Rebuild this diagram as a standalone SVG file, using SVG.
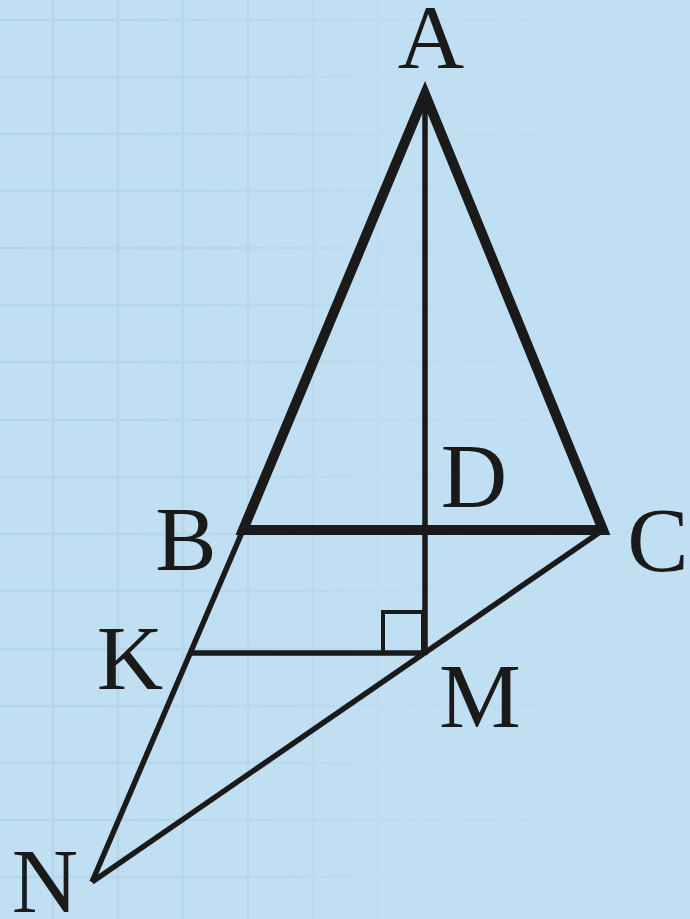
<svg xmlns="http://www.w3.org/2000/svg" width="690" height="919" viewBox="0 0 690 919">
  <defs>
    <style>
      .grid line { stroke: #b3d4e9; stroke-width: 2.5; }
      .thick { fill: none; stroke: #1a1a1a; stroke-width: 10; stroke-linejoin: miter; stroke-miterlimit: 10; }
      .thin { fill: none; stroke: #1a1a1a; stroke-width: 5.5; stroke-linecap: butt; stroke-linejoin: miter; stroke-miterlimit: 10; }
      .sq { fill: none; stroke: #1a1a1a; stroke-width: 4; }
      .lbl { font-family: "Liberation Serif", "Times New Roman", serif; font-size: 92px; fill: #1a1a1a; text-anchor: middle; }
    </style>
    <linearGradient id="fade" x1="0" y1="0" x2="690" y2="0" gradientUnits="userSpaceOnUse">
      <stop offset="0" stop-color="#fff" stop-opacity="1"/>
      <stop offset="0.3" stop-color="#fff" stop-opacity="0.75"/>
      <stop offset="0.6" stop-color="#fff" stop-opacity="0.15"/>
      <stop offset="1" stop-color="#fff" stop-opacity="0"/>
    </linearGradient>
    <mask id="gridMask">
      <rect x="0" y="0" width="690" height="919" fill="url(#fade)"/>
    </mask>
  </defs>
  <rect x="0" y="0" width="690" height="919" fill="#c1dff2"/>
  <g class="grid" mask="url(#gridMask)">
    <line x1="53" y1="0" x2="53" y2="919"/>
    <line x1="118" y1="0" x2="118" y2="919"/>
    <line x1="183" y1="0" x2="183" y2="919"/>
    <line x1="248" y1="0" x2="248" y2="919"/>
    <line x1="313" y1="0" x2="313" y2="919"/>
    <line x1="378" y1="0" x2="378" y2="919"/>
    <line x1="443" y1="0" x2="443" y2="919"/>
    <line x1="0" y1="20" x2="690" y2="20"/>
    <line x1="0" y1="77" x2="690" y2="77"/>
    <line x1="0" y1="134" x2="690" y2="134"/>
    <line x1="0" y1="191" x2="690" y2="191"/>
    <line x1="0" y1="248" x2="690" y2="248"/>
    <line x1="0" y1="305" x2="690" y2="305"/>
    <line x1="0" y1="362" x2="690" y2="362"/>
    <line x1="0" y1="420" x2="690" y2="420"/>
    <line x1="0" y1="477" x2="690" y2="477"/>
    <line x1="0" y1="534" x2="690" y2="534"/>
    <line x1="0" y1="591" x2="690" y2="591"/>
    <line x1="0" y1="649" x2="690" y2="649"/>
    <line x1="0" y1="706" x2="690" y2="706"/>
    <line x1="0" y1="763" x2="690" y2="763"/>
    <line x1="0" y1="820" x2="690" y2="820"/>
    <line x1="0" y1="877" x2="690" y2="877"/>
  </g>
  <g id="connectors">
    <line class="thin" x1="243" y1="530" x2="92" y2="882"/>
    <line class="thin" x1="603" y1="530" x2="92" y2="882"/>
    <line class="thin" x1="190" y1="653" x2="425" y2="653"/>
    <line class="thin" x1="425" y1="94" x2="425" y2="655"/>
    <polygon class="thick" points="425,94 243,530 603,530"/>
    <rect class="sq" x="383" y="612" width="40" height="41"/>
  </g>
  <g id="A"><text class="lbl" x="431" y="68">A</text></g>
  <g id="B"><text class="lbl" x="186" y="570">B</text></g>
  <g id="C"><text class="lbl" x="658" y="571">C</text></g>
  <g id="D"><text class="lbl" x="474" y="507">D</text></g>
  <g id="K"><text class="lbl" x="130" y="689">K</text></g>
  <g id="M"><text class="lbl" x="480" y="727">M</text></g>
  <g id="N"><text class="lbl" x="45" y="912">N</text></g>
</svg>
